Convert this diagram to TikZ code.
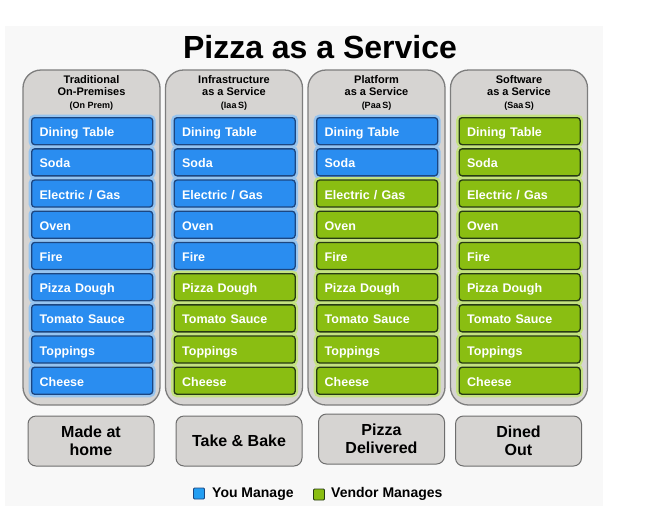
\documentclass[tikz,border=0pt]{standalone}
\usepackage{fontspec}
\setmainfont{Liberation Sans}
\definecolor{panelbg}{RGB}{248,248,248}
\definecolor{colfill}{RGB}{214,212,210}
\definecolor{colline}{RGB}{125,125,125}
\definecolor{bluefill}{RGB}{42,141,240}
\definecolor{blueline}{RGB}{28,70,128}
\definecolor{bluehalo}{RGB}{150,196,240}
\definecolor{greenfill}{RGB}{138,190,18}
\definecolor{greenline}{RGB}{38,58,20}
\definecolor{greenhalo}{RGB}{196,226,128}
\definecolor{boxfill}{RGB}{214,212,210}
\definecolor{boxline}{RGB}{110,110,110}
\tikzset{
  colbox/.style={draw=colline, line width=1.3pt, fill=colfill, rounded corners=18pt,
    minimum width=137pt, minimum height=335pt, inner sep=0pt},
  headtxt/.style={anchor=north, align=center, inner sep=0pt,
    font=\bfseries\fontsize{11}{12.5}\selectfont},
  itembase/.style={rectangle, rounded corners=3pt, line width=1.3pt, anchor=north west,
    minimum width=121pt, minimum height=27pt, text width=105pt, align=left,
    inner xsep=8pt, inner ysep=0pt, text height=12pt, text depth=1pt,
    text=white, font=\bfseries\fontsize{12.5}{14}\selectfont},
  blueitem/.style={itembase, draw=blueline, fill=bluefill,
    preaction={draw=bluehalo, line width=6pt}},
  greenitem/.style={itembase, draw=greenline, fill=greenfill,
    preaction={draw=greenhalo, line width=6pt}},
  resultbox/.style={draw=boxline, line width=1pt, fill=boxfill, rounded corners=8pt,
    minimum width=126pt, minimum height=50pt, align=center, inner sep=0pt,
    font=\bfseries\fontsize{16}{17.5}\selectfont},
  legsq/.style={rectangle, rounded corners=1pt, line width=0.8pt, minimum size=11pt, inner sep=0pt},
  legtxt/.style={anchor=base west, inner sep=0pt, font=\bfseries\fontsize{14}{16}\selectfont}
}
\begin{document}
\begin{tikzpicture}[x=1pt,y=-1pt]
\useasboundingbox (0,0) rectangle (663,528);
\fill[white] (0,0) rectangle (663,528);
\fill[panelbg] (5,26) rectangle (603,506);

\node[anchor=base, inner sep=0pt, font=\bfseries\fontsize{32}{36}\selectfont] (title) at (320,58) {Pizza as a Service};

% columns
\node[colbox] (col1) at (91.5,237.5) {};
\node[colbox] (col2) at (234,237.5) {};
\node[colbox] (col3) at (376.5,237.5) {};
\node[colbox] (col4) at (519,237.5) {};

\node[headtxt] (h1) at (91.5,75) {Traditional\\On-Premises\\{\fontsize{9}{10}\selectfont (On Prem)}};
\node[headtxt] (h2) at (234,75) {Infrastructure\\as a Service\\{\fontsize{9}{10}\selectfont (Iaa\,S)}};
\node[headtxt] (h3) at (376.5,75) {Platform\\as a Service\\{\fontsize{9}{10}\selectfont (Paa\,S)}};
\node[headtxt] (h4) at (519,75) {Software\\as a Service\\{\fontsize{9}{10}\selectfont (Saa\,S)}};

% items
\def\itemlist{Dining Table,Soda,Electric / Gas,Oven,Fire,Pizza Dough,Tomato Sauce,Toppings,Cheese}
\foreach \c/\lx/\nb in {1/23/9, 2/165.5/5, 3/308/2, 4/450.5/0} {
  \foreach \t [count=\r from 0] in \itemlist {
    \pgfmathsetmacro\ty{117+\r*31.2}
    \ifnum\r<\nb\relax\def\sty{blueitem}\else\def\sty{greenitem}\fi
    \node[\sty] (c\c r\r) at (\lx+8,\ty) {\t};
  }
}

% result boxes
\node[resultbox] (b1) at (91,441) {Made at\\home};
\node[resultbox] (b2) at (239,441) {Take \& Bake};
\node[resultbox] (b3) at (381.5,439) {Pizza\\Delivered};
\node[resultbox] (b4) at (518.5,441) {Dined\\Out};

% legend
\node[legsq, draw=blueline, fill=bluefill!85!cyan] (lb) at (199,493.5) {};
\node[legtxt] (lbt) at (212,497) {You Manage};
\node[legsq, draw=greenline, fill=greenfill] (lg) at (319,494.5) {};
\node[legtxt] (lgt) at (331,497) {Vendor Manages};
\end{tikzpicture}
\end{document}
